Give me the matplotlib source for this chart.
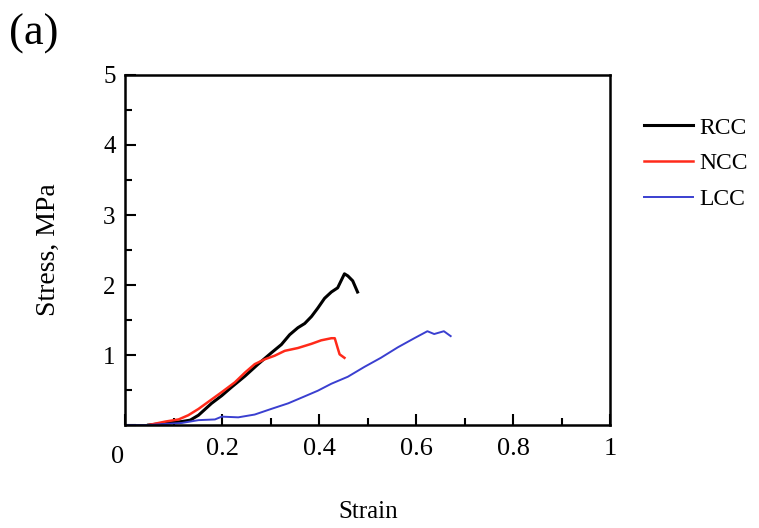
import matplotlib.pyplot as plt
import numpy as np

plt.rcParams['font.family'] = ['Liberation Serif', 'DejaVu Serif']

# RCC
rcc_x = [0.048, 0.117, 0.134, 0.151, 0.178, 0.199, 0.219, 0.247, 0.274, 0.301, 0.322, 0.339,
         0.356, 0.370, 0.384, 0.397, 0.411, 0.425, 0.438, 0.452, 0.459, 0.469, 0.479]
rcc_y = [0.0, 0.05, 0.07, 0.14, 0.31, 0.42, 0.54, 0.70, 0.87, 1.03, 1.15, 1.29,
         1.39, 1.45, 1.55, 1.67, 1.81, 1.90, 1.96, 2.16, 2.13, 2.06, 1.90]

# NCC
ncc_x = [0.048, 0.083, 0.110, 0.130, 0.151, 0.171, 0.199, 0.226, 0.247, 0.267, 0.288, 0.308,
         0.329, 0.356, 0.384, 0.404, 0.425, 0.432, 0.438, 0.442, 0.452]
ncc_y = [0.0, 0.05, 0.08, 0.14, 0.23, 0.33, 0.47, 0.61, 0.75, 0.87, 0.94, 0.99,
         1.06, 1.10, 1.16, 1.21, 1.24, 1.24, 1.10, 1.01, 0.96]

# LCC
lcc_x = [0.0, 0.048, 0.117, 0.151, 0.185, 0.199, 0.233, 0.267, 0.301, 0.336, 0.370, 0.397,
         0.425, 0.459, 0.493, 0.527, 0.562, 0.596, 0.623, 0.637, 0.657, 0.671]
lcc_y = [0.0, 0.0, 0.03, 0.07, 0.08, 0.12, 0.11, 0.15, 0.23, 0.31, 0.41, 0.49,
         0.59, 0.69, 0.83, 0.96, 1.11, 1.24, 1.34, 1.30, 1.34, 1.27]

fig = plt.figure(figsize=(7.59, 5.28), dpi=100)
ax = fig.add_axes([0.165, 0.195, 0.639, 0.663])

ax.plot(rcc_x, rcc_y, color="black", lw=2.2, label="RCC")
ax.plot(ncc_x, ncc_y, color="#ff2a1a", lw=1.8, label="NCC")
ax.plot(lcc_x, lcc_y, color="#3a3fd0", lw=1.4, label="LCC")

ax.set_xlim(0, 1)
ax.set_ylim(0, 5)
ax.set_xticks([0, 0.2, 0.4, 0.6, 0.8, 1.0])
ax.set_xticklabels(["", "0.2", "0.4", "0.6", "0.8", "1"])
ax.set_xticks(np.arange(0.1, 1.0, 0.2), minor=True)
ax.set_yticks([0, 1, 2, 3, 4, 5])
ax.set_yticklabels(["", "1", "2", "3", "4", "5"])
ax.set_yticks(np.arange(0.5, 5, 1.0), minor=True)
ax.tick_params(which="both", direction="in", width=1.5)
ax.tick_params(axis="x", which="major", length=8, pad=9, labelsize=19)
ax.tick_params(axis="y", which="major", length=8, pad=7, labelsize=18)
ax.tick_params(which="minor", length=5)
for s in ax.spines.values():
    s.set_linewidth(1.8)

ax.text(-0.015, -0.09, "0", fontsize=19, ha="center", va="center", transform=ax.transAxes)
ax.set_xlabel("Strain", fontsize=18, labelpad=30)
ax.set_ylabel("Stress, MPa", fontsize=20, labelpad=30)

ax.legend(loc="upper left", bbox_to_anchor=(1.025, 0.94), frameon=False, fontsize=17,
          handlelength=2.1, handletextpad=0.25, labelspacing=0.6)

fig.text(0.012, 0.975, "(a)", fontsize=32, ha="left", va="top")

fig.savefig("out.png", dpi=100)
